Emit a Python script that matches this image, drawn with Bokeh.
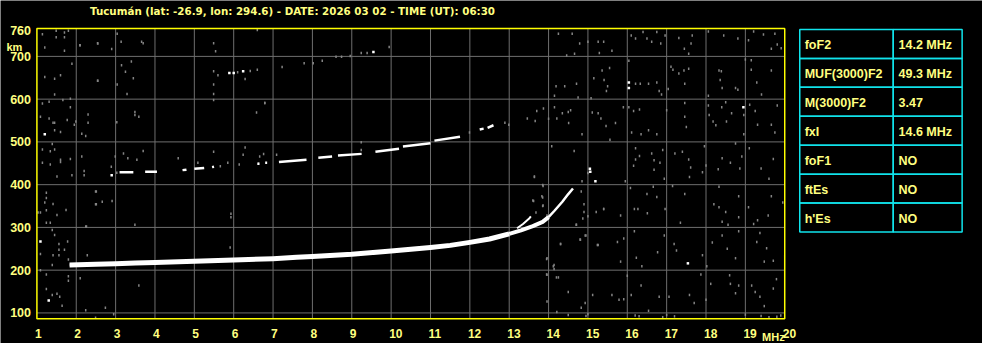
import numpy as np
from bokeh.plotting import figure
from bokeh.models import Range1d
from bokeh.core.properties import value
from bokeh.embed import file_html
from bokeh.resources import INLINE

TITLE = "Tucumán (lat: -26.9, lon: 294.6) - DATE: 2026 03 02 - TIME (UT): 06:30"
x_ticks = list(range(1, 21))
x_grid = list(range(2, 20))
y_ticks = [100, 200, 300, 400, 500, 600, 700, 760]
y_grid = [100, 200, 300, 400, 500, 600, 700]
F_LO, F_HI = 1.0, 20.0          # ionogram frequency limits (MHz)
H_LO, H_HI = 86.6, 765.3        # ionogram height limits (km)

table_labels = ["foF2", "MUF(3000)F2", "M(3000)F2", "fxI", "foF1", "ftEs", "h'Es"]
table_values = ["14.2 MHz", "49.3 MHz", "3.47", "14.6 MHz", "NO", "NO", "NO"]

# first-hop F2 trace (MHz, km)
f1 = [1.83, 2.5, 3.0, 3.5, 4.0, 5.0, 6.0, 7.0, 7.6, 8.0, 9.0, 10.0, 11.0, 11.5, 12.0,
      12.5, 13.0, 13.3, 13.6, 13.85, 14.0, 14.15, 14.35, 14.5, 14.62]
h1 = [212, 214, 215, 217, 218, 221, 224, 227, 230, 232, 237, 245, 253, 258, 265,
      273, 285, 293, 303, 313, 324, 339, 360, 378, 391]
fo_branch = [13.2, 13.35, 13.5, 13.55]
ho_branch = [298, 308, 320, 326]

# second-hop trace pieces
f2_f0 = [3.10, 3.75, 4.70, 5.00, 5.45, 6.60, 6.80, 7.15, 8.15, 8.65, 9.60, 10.30, 11.10, 12.25, 12.45]
f2_f1 = [3.45, 4.05, 4.80, 5.25, 5.50, 6.65, 6.85, 7.85, 8.50, 9.25, 10.20, 11.00, 11.75, 12.35, 12.60]
f2_h0 = [429, 430, 434, 437, 441, 449, 451, 453, 463, 468, 477, 489, 503, 529, 533]
f2_h1 = [429, 430, 435, 439, 442, 449, 451, 458, 466, 472, 484, 497, 512, 531, 539]

# third-hop echoes
f3_gray = [(6.10, 663), (6.42, 666), (6.60, 669), (7.23, 675), (7.79, 684), (8.02, 684), (8.25, 690),
           (8.60, 699), (8.74, 699), (8.96, 701), (9.24, 708), (9.39, 708)]
f3_white = [(5.89, 661), (6.00, 661), (6.24, 665), (9.55, 710)]

white_specks = [(1.20, 518), (1.09, 267), (1.30, 129), (2.90, 422), (15.06, 430), (15.19, 408),
                (16.04, 639), (16.04, 626), (18.95, 581), (17.54, 216), (15.05, 437)]

noise_left = [(1.14, 752), (1.49, 760), (1.49, 745), (1.70, 756), (1.70, 745), (1.80, 760), (1.20, 721),
              (1.70, 713), (2.09, 726), (2.55, 730), (1.89, 683), (1.20, 652), (1.45, 648), (1.60, 656),
              (2.55, 643), (1.45, 611), (1.66, 598), (1.85, 601), (1.85, 581), (1.14, 590), (1.31, 594),
              (1.09, 559), (1.31, 555), (1.41, 545), (1.45, 545), (1.77, 551), (1.99, 548), (1.95, 540),
              (1.45, 527), (1.60, 523), (2.14, 519), (2.24, 514), (2.30, 564), (2.30, 545), (1.39, 495),
              (1.14, 482), (1.45, 482), (1.34, 478), (1.60, 458), (1.60, 453), (1.85, 460), (1.34, 447),
              (1.14, 451), (2.14, 466), (2.20, 432), (2.20, 422), (1.89, 422), (1.51, 419), (1.24, 381),
              (1.24, 369), (1.20, 358), (1.41, 355), (1.03, 335), (1.09, 335), (1.24, 340), (1.24, 311),
              (1.34, 311), (1.51, 329), (1.74, 341), (2.49, 384), (2.49, 354), (2.66, 360), (1.39, 294),
              (1.45, 282), (1.56, 261), (1.70, 248), (1.56, 248), (1.78, 267), (1.56, 235), (1.41, 235),
              (1.09, 238), (1.80, 225), (2.28, 235), (2.26, 302), (1.39, 212), (1.85, 212), (1.09, 200),
              (1.24, 190), (1.80, 186), (1.80, 175), (2.10, 181), (1.24, 156), (1.39, 142), (1.58, 138),
              (1.51, 145), (1.64, 117), (2.24, 106), (2.49, 89), (2.74, 112), (2.95, 97),
              (3.04, 753), (3.14, 734), (3.66, 734), (3.70, 731), (5.49, 731), (5.54, 712), (6.60, 762),
              (9.95, 722), (3.15, 679), (3.40, 688), (3.25, 664), (3.45, 649), (3.04, 634), (3.29, 612),
              (2.54, 643), (2.10, 726), (2.54, 731), (2.90, 717), (5.49, 665), (5.60, 656), (5.49, 634),
              (5.49, 612), (6.29, 647), (6.79, 591)]

noise_mid = [(3.03, 546), (3.49, 570), (3.49, 563), (3.59, 559), (3.20, 473), (3.31, 462), (2.99, 466),
             (3.70, 479), (3.54, 458), (2.89, 442), (3.03, 428), (2.91, 362), (2.51, 384), (2.51, 354),
             (3.49, 306), (2.24, 302), (4.59, 462), (5.09, 451), (5.49, 598), (5.49, 477), (5.66, 443),
             (5.85, 451), (5.93, 332), (5.93, 324), (5.91, 253), (6.29, 487), (6.24, 470), (6.14, 447),
             (6.58, 569), (6.79, 591), (6.66, 466), (6.64, 449), (6.76, 472), (7.09, 470), (9.24, 499),
             (9.24, 481), (11.99, 522), (12.89, 545), (12.99, 540), (3.59, 164), (13.64, 418), (13.85, 399),
             (13.85, 370), (13.60, 363), (13.85, 350), (13.68, 335), (13.95, 226), (14.14, 212),
             (14.14, 203), (13.95, 190), (14.20, 183), (14.30, 261), (14.70, 306), (14.80, 272),
             (14.95, 281), (15.24, 259), (15.40, 343), (15.00, 427)]

noise_right = [
    (14.25, 753), (14.60, 753), (14.79, 730), (15.00, 734), (15.26, 734), (15.40, 734), (15.61, 713),
    (15.29, 708), (14.66, 706), (14.46, 702), (16.10, 749), (16.21, 742), (16.40, 757), (16.50, 742),
    (16.62, 734), (16.75, 757), (16.85, 730), (16.96, 749), (17.31, 743), (17.45, 718), (17.65, 749),
    (17.62, 730), (17.56, 706), (18.06, 758), (18.45, 749), (18.81, 742), (19.08, 738), (19.21, 758),
    (19.46, 751), (19.75, 753), (19.81, 728), (19.91, 719), (19.66, 718),
    (15.15, 649), (15.36, 667), (15.55, 673), (15.41, 645), (15.50, 630), (15.47, 619), (14.19, 630),
    (14.41, 630), (14.71, 636), (14.15, 608), (14.75, 604), (15.08, 602), (16.04, 690), (16.21, 636),
    (16.33, 636), (16.54, 636), (16.75, 639), (16.81, 619), (16.87, 611), (17.11, 676), (17.16, 669),
    (17.31, 660), (17.44, 667), (17.56, 671), (17.46, 636), (17.04, 624), (18.06, 608), (18.33, 667),
    (18.39, 665), (18.36, 645), (18.41, 626), (18.75, 626), (18.81, 622), (19.00, 693), (19.15, 691),
    (19.29, 639), (19.41, 611), (19.66, 667), (19.15, 669),
    (13.46, 555), (13.66, 549), (13.70, 572), (13.87, 578), (14.00, 554), (14.15, 581), (14.21, 555),
    (14.35, 567), (14.50, 570), (14.56, 574), (14.51, 544), (14.85, 518), (15.11, 569), (15.26, 567),
    (15.33, 555), (15.46, 537), (15.56, 505), (15.70, 544), (15.90, 581), (16.04, 581), (16.16, 572),
    (16.31, 576), (16.11, 522), (16.35, 518), (16.54, 527), (16.75, 518), (17.00, 574), (17.46, 591),
    (17.46, 559), (17.50, 535), (18.06, 585), (18.08, 563), (18.18, 548), (18.25, 539), (18.40, 581),
    (18.50, 593), (18.65, 567), (18.52, 548), (18.96, 563), (18.96, 518), (19.11, 587), (19.25, 572),
    (19.31, 540), (19.66, 540), (19.75, 522), (19.81, 585),
    (14.08, 490), (14.65, 479), (13.64, 419), (14.85, 408), (15.95, 408), (16.21, 485), (16.31, 467),
    (16.21, 459), (16.16, 444), (16.62, 473), (16.68, 457), (16.68, 435), (16.90, 481), (16.83, 451),
    (16.94, 414), (17.21, 473), (17.40, 477), (17.56, 459), (17.61, 440), (17.58, 418), (17.91, 429),
    (18.00, 445), (17.96, 490), (18.31, 436), (18.41, 462), (18.62, 451), (18.75, 496), (18.86, 438),
    (19.10, 485), (18.91, 466), (19.40, 438), (19.60, 414), (19.71, 460),
    (13.86, 397), (13.83, 373), (13.62, 362), (13.86, 351), (13.96, 328), (14.71, 306), (14.83, 384),
    (14.90, 354), (14.90, 336), (14.87, 321), (15.00, 326), (15.21, 336), (15.40, 343), (15.83, 328),
    (16.08, 392), (16.18, 343), (16.27, 343), (16.50, 378), (16.51, 333), (16.66, 395), (16.75, 371),
    (16.96, 343), (17.15, 397), (17.46, 378), (17.35, 311), (18.33, 395), (18.20, 354), (18.33, 347),
    (18.50, 336), (18.41, 313), (18.56, 306), (18.83, 373), (18.83, 324), (19.08, 347), (19.21, 308),
    (19.31, 317), (19.66, 373), (19.58, 328), (19.95, 358),
    (13.96, 228), (14.12, 209), (14.31, 261), (14.81, 271), (14.93, 281), (15.26, 259), (15.75, 266),
    (15.91, 274), (15.83, 220), (16.23, 229), (16.18, 291), (16.37, 209), (16.77, 242), (16.94, 281),
    (17.19, 261), (17.25, 246), (17.91, 235), (18.02, 209), (18.16, 265), (18.41, 281), (18.54, 250),
    (18.75, 228), (18.83, 291), (19.29, 266), (19.48, 220), (19.54, 251), (19.71, 222), (19.37, 287),
    (13.96, 189), (14.25, 183), (14.50, 149), (13.96, 127), (14.21, 102), (14.83, 112), (14.93, 123),
    (15.12, 142), (15.61, 142), (15.79, 131), (15.91, 132), (16.00, 187), (16.10, 142), (16.35, 164),
    (16.54, 105), (16.81, 138), (17.06, 138), (17.58, 142), (17.70, 123), (17.87, 190), (18.00, 131),
    (18.12, 168), (18.60, 188), (18.62, 168), (18.75, 146), (18.83, 164), (19.16, 164), (19.25, 149),
    (19.37, 138), (19.48, 116), (19.71, 157), (19.79, 179),
    (14.50, 95), (14.95, 93), (15.00, 97), (16.20, 94), (16.30, 92), (16.90, 90), (17.00, 95),
    (17.20, 92), (19.00, 96), (19.40, 93), (19.60, 90), (19.80, 91), (19.90, 94)]

# ---------------- layout / styles ----------------
BG = "black"
YELLOW = "#ffff00"
TXT = "#ffff80"
GRID = "#6e6e6e"
NOISE = "#858585"
CYAN = "#10e4ec"
FONT = "Liberation Sans"
TITLE_FONT = "DejaVu Sans"

W, H = 982, 343
# the whole canvas is one frame; the reference layout (998 x 359 px) is mapped onto it
REF_W, REF_H = 998, 359
PX_X0, PX_PER_MHZ = 37.0, 40.0        # reference pixel of 1 MHz, pixels per MHz
PX_Y100, PX_PER_KM = 327.0, 0.4475    # reference pixel of 100 km, pixels per km


def fx(px):
    return F_LO + (px - PX_X0) / PX_PER_MHZ


def hy(py):
    return 100 + (PX_Y100 - py) / PX_PER_KM


p = figure(width=W, height=H, x_range=Range1d(fx(0), fx(REF_W)), y_range=Range1d(hy(REF_H), hy(0)),
           output_backend="svg", toolbar_location=None, x_axis_type=None, y_axis_type=None,
           min_border_left=0, min_border_right=0, min_border_top=0, min_border_bottom=0,
           background_fill_color=BG, border_fill_color=BG, outline_line_color=None)

# grid
p.segment(x0=x_grid, y0=[H_LO] * len(x_grid), x1=x_grid, y1=[H_HI] * len(x_grid),
          line_color=GRID, line_width=1)
p.segment(x0=[F_LO] * len(y_grid), y0=y_grid, x1=[F_HI] * len(y_grid), y1=y_grid,
          line_color=GRID, line_width=1)

# noise
noise = noise_left + noise_mid + noise_right + f3_gray
nf, nh = zip(*noise)
p.rect(x=list(nf), y=list(nh), width=1.5, height=2.5, width_units="screen", height_units="screen",
       fill_color=NOISE, line_color=None)
wf, wh = zip(*(white_specks + f3_white))
p.rect(x=list(wf), y=list(wh), width=2.5, height=2.5, width_units="screen", height_units="screen",
       fill_color="white", line_color=None)

# second hop
p.segment(x0=f2_f0, y0=f2_h0, x1=f2_f1, y1=f2_h1, line_color="white", line_width=2.5)

# main trace, thinning towards the cusp
fa = np.array(f1)
ha = np.array(h1)
m1 = fa <= 13.0
m2 = (fa >= 13.0) & (fa <= 14.0)
m3 = fa >= 14.0
p.line(fa[m1], ha[m1], line_color="white", line_width=5, line_join="round")
p.line(fa[m2], ha[m2], line_color="white", line_width=4, line_join="round")
p.line(fa[m3], ha[m3], line_color="white", line_width=2.5, line_join="round")
p.line(fo_branch, ho_branch, line_color="white", line_width=2)

# ionogram frame
p.quad(left=[F_LO], right=[F_HI], bottom=[H_LO], top=[H_HI], fill_color=None,
       line_color=YELLOW, line_width=1.5)

# tick labels
p.text(x=[t - 2 / PX_PER_MHZ for t in x_ticks], y=[hy(349)] * len(x_ticks), text=[str(t) for t in x_ticks],
       text_align="left", text_baseline="alphabetic", text_font=value(FONT), text_font_style="bold",
       text_font_size="12px", text_color=TXT)
p.text(x=[fx(31)] * len(y_ticks), y=y_ticks, text=[str(t) for t in y_ticks],
       text_align="right", text_baseline="middle", text_font=value(FONT), text_font_style="bold",
       text_font_size="12.5px", text_color=TXT)
p.text(x=[fx(6)], y=[hy(49)], text=["km"], text_align="left", text_baseline="alphabetic",
       text_font=value(FONT), text_font_style="bold", text_font_size="11px", text_color=TXT)
p.text(x=[fx(774)], y=[hy(352.5)], text=["MHz"], text_align="left", text_baseline="alphabetic",
       text_font=value(FONT), text_font_style="bold", text_font_size="11px", text_color=TXT)
p.text(x=[fx(91)], y=[hy(10.8)], text=[TITLE], text_align="left", text_baseline="alphabetic",
       text_font=value(TITLE_FONT), text_font_style="bold", text_font_size="10.3px", text_color=TXT)

# ---------------- table ----------------
n = len(table_labels)
T_TOP, T_ROW = 30.3, 30.29
T_L, T_M, T_R = 812.3, 907.3, 977.3
tops = [hy(T_TOP + i * T_ROW) for i in range(n)]
bots = [hy(T_TOP + (i + 1) * T_ROW) for i in range(n)]
p.quad(left=[fx(T_L)] * n + [fx(T_M)] * n, right=[fx(T_M)] * n + [fx(T_R)] * n,
       top=tops + tops, bottom=bots + bots, fill_color=None, line_color=CYAN, line_width=1.5)
mids = [hy(T_TOP + (i + 0.5) * T_ROW + 1.2) for i in range(n)]
p.text(x=[fx(817.3)] * n, y=mids, text=table_labels, text_font=value(FONT), text_font_style="bold",
       text_font_size="12.5px", text_color=TXT, text_baseline="middle", text_align="left")
p.text(x=[fx(912.7)] * n, y=mids, text=table_values, text_font=value(FONT), text_font_style="bold",
       text_font_size="12.5px", text_color=TXT, text_baseline="middle", text_align="left")

open("out.html", "w").write(file_html(p, INLINE))
